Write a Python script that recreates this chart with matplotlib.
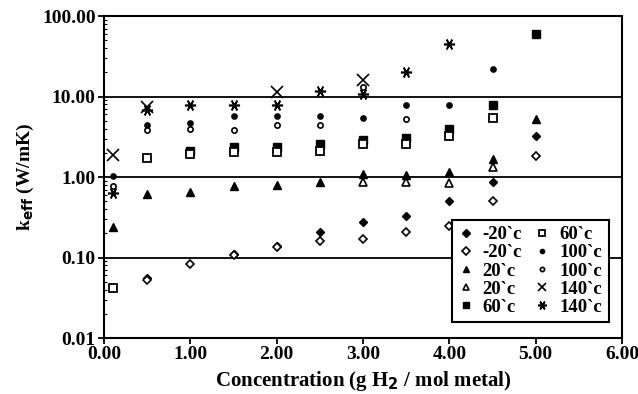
import numpy as np
from matplotlib import pyplot as plt
from matplotlib.ticker import FormatStrFormatter, FixedLocator, LogLocator, NullFormatter

plt.rcParams['font.family'] = 'Liberation Serif'
plt.rcParams['font.weight'] = 'bold'

nan = np.nan
conc = [0.1, 0.5, 1.0, 1.5, 2.0, 2.5, 3.0, 3.5, 4.0, 4.5, 5.0]

m20_fill = [nan, 0.055, nan, 0.11, 0.14, 0.21, 0.28, 0.33, 0.50, 0.88, 3.2]
m20_open = [nan, 0.052, 0.083, 0.108, 0.135, 0.16, 0.17, 0.21, 0.25, 0.50, 1.85]
p20_fill = [0.24, 0.62, 0.66, 0.78, 0.79, 0.87, 1.08, 1.06, 1.17, 1.68, 5.3]
p20_open = [nan, nan, nan, nan, nan, nan, 0.87, 0.86, 0.85, 1.34, nan]
c60_fill = [nan, nan, 2.1, 2.4, 2.4, 2.6, 2.9, 3.1, 4.0, 7.9, 60.0]
c60_open = [0.042, 1.75, 1.95, 2.05, 2.05, 2.1, 2.55, 2.55, 3.2, 5.4, nan]
c100_fill = [1.04, 4.4, 4.7, 5.7, 5.8, 5.8, 5.5, 7.8, 7.8, 22.0, nan]
c100_open = [0.78, 3.9, 4.0, 3.9, 4.4, 4.5, 13.0, 5.3, nan, nan, nan]
c140_x = [1.9, 7.5, nan, nan, 11.5, nan, 16.0, nan, nan, nan, nan]
c140_ast = [0.63, 6.8, 7.8, 7.8, 7.8, 11.7, 10.8, 20.0, 45.0, nan, nan]

fig = plt.figure(figsize=(6.38, 3.94), dpi=100)
ax = fig.add_axes([0.163, 0.142, 0.812, 0.817])

ax.axhline(0.1, color='black', lw=1.3, zorder=1)
ax.axhline(1.0, color='black', lw=1.3, zorder=1)
ax.axhline(10.0, color='black', lw=1.3, zorder=1)

k = dict(color='black', linestyle='none', zorder=3)
ax.plot(conc, m20_fill, marker='D', ms=4.5, label='-20`c', **k)
ax.plot(conc, m20_open, marker='D', ms=4.5, mfc='white', mew=1.2, label='-20`c', **k)
ax.plot(conc, p20_fill, marker='^', ms=6, label='20`c', **k)
ax.plot(conc, p20_open, marker='^', ms=6, mfc='white', mew=1.2, label='20`c', **k)
ax.plot(conc, c60_fill, marker='s', ms=5.5, label='60`c', **k)
ax.plot(conc, c60_open, marker='s', ms=5.5, mfc='white', mew=1.3, label='60`c', **k)
ax.plot(conc, c100_fill, marker='o', ms=3.8, label='100`c', **k)
ax.plot(conc, c100_open, marker='o', ms=3.8, mfc='white', mew=1.2, label='100`c', **k)
ax.plot(conc, c140_x, marker='x', ms=8, mew=1.2, label='140`c', **k)
ax.plot(conc, c140_ast, marker=(6, 2, 90), ms=8, mew=1.2, label='140`c', **k)

ax.set_yscale('log')
ax.set_xlim(0, 6)
ax.set_ylim(0.01, 100)
ax.xaxis.set_major_locator(FixedLocator([0, 1, 2, 3, 4, 5, 6]))
ax.xaxis.set_major_formatter(FormatStrFormatter('%.2f'))
ax.yaxis.set_major_locator(FixedLocator([0.01, 0.1, 1, 10, 100]))
ax.yaxis.set_major_formatter(FormatStrFormatter('%.2f'))
ax.yaxis.set_minor_locator(LogLocator(base=10, subs=np.arange(2, 10)))
ax.yaxis.set_minor_formatter(NullFormatter())
ax.tick_params(axis='both', which='major', labelsize=14, direction='out', length=4, width=1.3, pad=2)
ax.tick_params(axis='y', which='minor', direction='in', length=2.5, width=0.8)
for s in ax.spines.values():
    s.set_linewidth(1.5)

ax.set_xlabel('Concentration (g H$_\\mathbf{2}$ / mol metal)', fontsize=15, fontweight='bold', labelpad=4)
ax.set_ylabel('k$_{\\mathbf{eff}}$ (W/mK)', fontsize=14, fontweight='bold', labelpad=4)

leg = ax.legend(ncol=2, loc='lower right', bbox_to_anchor=(0.992, 0.02), fontsize=13.5,
                frameon=True, fancybox=False, edgecolor='black', framealpha=1,
                handlelength=0.8, handletextpad=0.5, columnspacing=0.7,
                labelspacing=0.05, borderpad=0.35, markerscale=0.8)
leg.get_frame().set_linewidth(1.5)
leg.set_zorder(5)

plt.savefig('out.png', dpi=100)
